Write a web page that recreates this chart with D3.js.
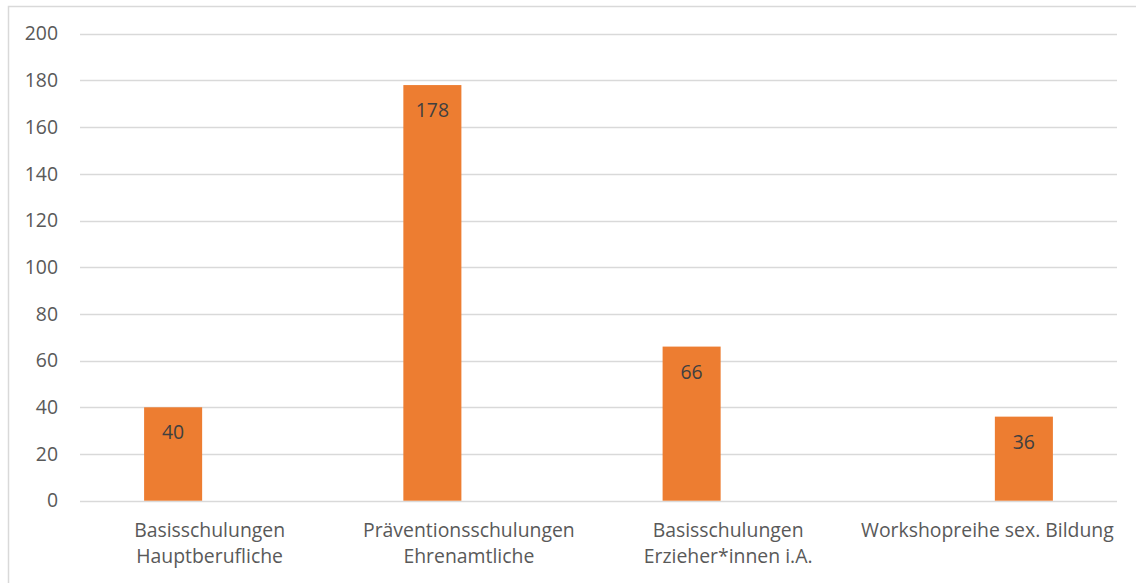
<!DOCTYPE html>
<html>
<head>
<meta charset="utf-8">
<script src="https://cdn.jsdelivr.net/npm/d3@7"></script>
<style>
  body { margin: 0; background: #fff; }
  svg { display: block; }
  .axis text { font-family: "Open Sans", sans-serif; font-size: 19.4px; fill: #595959; }
</style>
</head>
<body>
<main></main>
<script>
var w = 1136;
var h = 583;

// categories (each split into the lines shown under the axis)
var categories = ["Basisschulungen Hauptberufliche", "Präventionsschulungen Ehrenamtliche", "Basisschulungen Erzieher*innen i.A.", "Workshopreihe sex. Bildung"];
var categoryLines = [["Basisschulungen", "Hauptberufliche"], ["Präventionsschulungen", "Ehrenamtliche"], ["Basisschulungen", "Erzieher*innen i.A."], ["Workshopreihe sex. Bildung"]];

// two series, as in the source sheet: first three in one, the last in another
var seriesNames = ["Reihe1", "Reihe2"];
var seriesOne = [40, 178, 66, null];
var seriesTwo = [null, null, null, 36];

var yTicks = [0, 20, 40, 60, 80, 100, 120, 140, 160, 180, 200];

var plotLeft = 80, plotRight = 1117, plotTop = 33.7, plotBottom = 500.7;

var svg = d3.select("main").append("svg").attr("width", w).attr("height", h);

// chart border (runs off the right and bottom edge)
svg.append("rect")
  .attr("x", 8.5).attr("y", 6.5)
  .attr("width", w).attr("height", h)
  .attr("fill", "none")
  .attr("stroke", "#d9d9d9")
  .attr("stroke-width", 1.5);

// SCALES
var xScale = d3.scaleBand().domain(categories).range([plotLeft, plotRight]).padding(0);
var xInner = d3.scaleBand().domain(seriesNames).range([0, xScale.bandwidth()])
  .paddingInner(0.205).paddingOuter(0.878);
var yScale = d3.scaleLinear().domain([0, 200]).range([plotBottom, plotTop]);

// gridlines
svg.append("g")
  .selectAll("line")
  .data(yTicks)
  .enter()
  .append("line")
  .attr("x1", plotLeft).attr("x2", plotRight)
  .attr("y1", function (d) { return Math.round(yScale(d)) + 0.5; })
  .attr("y2", function (d) { return Math.round(yScale(d)) + 0.5; })
  .attr("stroke", "#d9d9d9")
  .attr("stroke-width", 1.3);

// y axis labels
var yAxis = d3.axisLeft(yScale).tickValues(yTicks).tickSize(0).tickPadding(22);
svg.append("g")
  .attr("class", "axis y")
  .attr("transform", "translate(" + plotLeft + ",0)")
  .call(yAxis)
  .call(function (g) { g.select(".domain").remove(); });

// build bar rows from the series arrays
var rows = [];
categories.forEach(function (c, i) {
  [seriesOne, seriesTwo].forEach(function (s, j) {
    if (s[i] != null) rows.push({ cat: c, series: seriesNames[j], value: s[i] });
  });
});

// BARS
svg.selectAll("rect.bar")
  .data(rows)
  .enter()
  .append("rect")
  .attr("class", "bar")
  .attr("x", function (d) { return xScale(d.cat) + xInner(d.series); })
  .attr("y", function (d) { return yScale(d.value); })
  .attr("width", xInner.bandwidth())
  .attr("height", function (d) { return yScale(0) - yScale(d.value); })
  .attr("fill", "#ed7d31");

// value labels inside top of bar
svg.selectAll("text.value")
  .data(rows)
  .enter()
  .append("text")
  .attr("class", "value")
  .attr("x", function (d) { return xScale(d.cat) + xInner(d.series) + xInner.bandwidth() / 2; })
  .attr("y", function (d) { return yScale(d.value) + 32; })
  .attr("text-anchor", "middle")
  .attr("font-family", "Open Sans, sans-serif")
  .attr("font-size", "19.4px")
  .attr("fill", "#404040")
  .text(function (d) { return d.value; });

// x category labels
var xLabels = svg.append("g").attr("class", "axis x");
categories.forEach(function (c, i) {
  var t = xLabels.append("text")
    .attr("x", xScale(c) + xScale.bandwidth() / 2)
    .attr("y", 537)
    .attr("text-anchor", "middle");
  categoryLines[i].forEach(function (line, k) {
    t.append("tspan")
      .attr("x", xScale(c) + xScale.bandwidth() / 2)
      .attr("dy", k === 0 ? 0 : 26)
      .text(line);
  });
});
</script>
</body>
</html>
